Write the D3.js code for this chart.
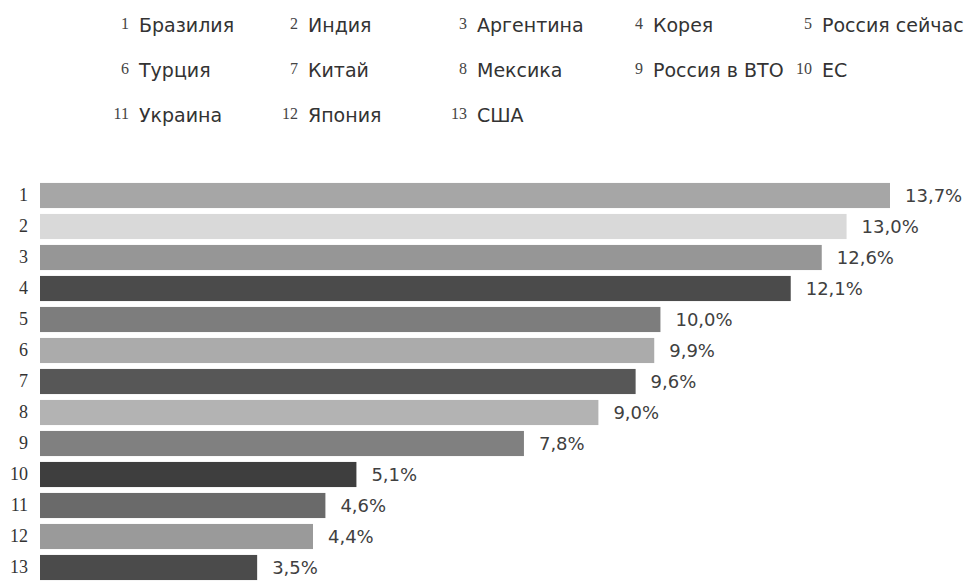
<!DOCTYPE html>
<html>
<head>
<meta charset="utf-8">
<script src="https://cdn.jsdelivr.net/npm/d3@7"></script>
<style>
  body { margin: 0; background: #fff; }
</style>
</head>
<body>
<svg id="chart"></svg>
<script>
// country names for the legend (number = position in list)
const countries = ['Бразилия', 'Индия', 'Аргентина', 'Корея', 'Россия сейчас',
  'Турция', 'Китай', 'Мексика', 'Россия в ВТО', 'ЕС',
  'Украина', 'Япония', 'США'];
const codes = ['1', '2', '3', '4', '5', '6', '7', '8', '9', '10', '11', '12', '13'];
const values = [13.7, 13.0, 12.6, 12.1, 10.0, 9.9, 9.6, 9.0, 7.8, 5.1, 4.6, 4.4, 3.5];
const barColors = ['#a6a6a6', '#d9d9d9', '#969696', '#4b4b4b', '#7d7d7d', '#ababab', '#575757',
  '#b3b3b3', '#808080', '#3e3e3e', '#6a6a6a', '#9a9a9a', '#4b4b4b'];

const width = 973, height = 581;

const svg = d3.select('#chart')
  .attr('width', width)
  .attr('height', height);

// legend: 5 columns, 3 rows
const legendX = [139, 308, 477, 653, 822];
const legendY = [32, 77, 122];

const legend = svg.append('g').attr('class', 'legend');
countries.forEach((name, i) => {
  const x = legendX[i % 5];
  const y = legendY[Math.floor(i / 5)];
  legend.append('text')
    .attr('x', x - 10)
    .attr('y', y - 3)
    .attr('text-anchor', 'end')
    .style('font-family', 'Liberation Serif')
    .style('font-size', '16px')
    .style('fill', '#444')
    .text(codes[i]);
  legend.append('text')
    .attr('x', x)
    .attr('y', y)
    .style('font-family', 'DejaVu Sans')
    .style('font-size', '19px')
    .style('fill', '#333')
    .text(name);
});

// scales
const xScale = d3.scaleLinear()
  .domain([0, 13.7])
  .range([40, 890]);

const yScale = d3.scaleBand()
  .domain(codes)
  .range([180, 583])
  .paddingInner(0.19)
  .paddingOuter(0.095);

// left axis with the numbers only
const yAxis = svg.append('g')
  .attr('transform', 'translate(40, 0)')
  .call(d3.axisLeft(yScale).tickSize(0).tickPadding(12));
yAxis.select('.domain').remove();
yAxis.selectAll('text')
  .style('font-family', 'Liberation Serif')
  .style('font-size', '18px')
  .style('fill', '#333');

// bars
svg.selectAll('rect.bar')
  .data(values)
  .enter()
  .append('rect')
  .attr('class', 'bar')
  .attr('x', xScale(0))
  .attr('y', (d, i) => yScale(codes[i]))
  .attr('width', d => xScale(d) - xScale(0))
  .attr('height', yScale.bandwidth())
  .style('fill', (d, i) => barColors[i]);

// value labels
svg.selectAll('text.val')
  .data(values)
  .enter()
  .append('text')
  .attr('class', 'val')
  .attr('x', d => xScale(d) + 15)
  .attr('y', (d, i) => yScale(codes[i]) + yScale.bandwidth() / 2)
  .attr('dy', '0.38em')
  .style('font-family', 'DejaVu Sans')
  .style('font-size', '18px')
  .style('fill', '#404040')
  .text(d => d.toFixed(1).replace('.', ',') + '%');
</script>
</body>
</html>
